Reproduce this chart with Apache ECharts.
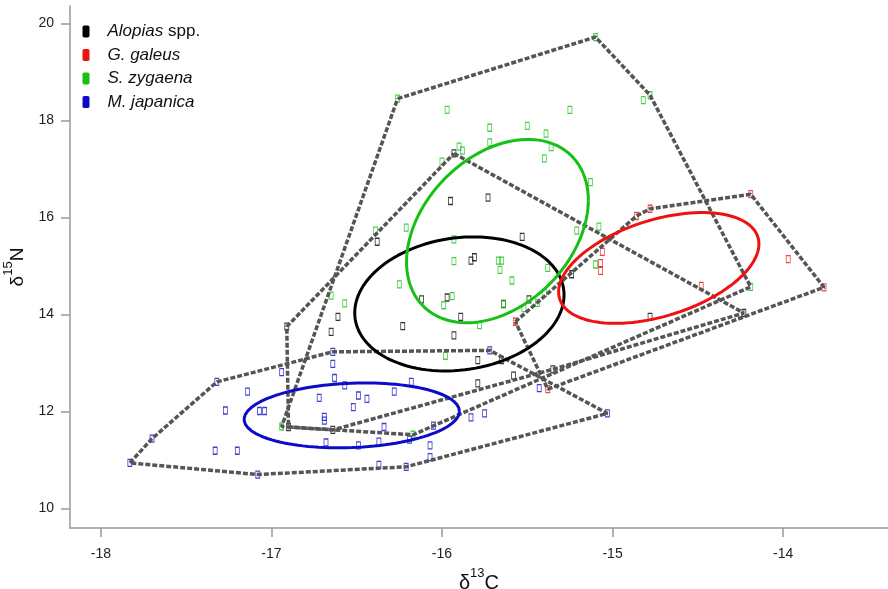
<!DOCTYPE html>
<html><head><meta charset="utf-8">
<script src="https://cdn.jsdelivr.net/npm/echarts@6/dist/echarts.min.js"></script>
<style>html,body{margin:0;padding:0;background:#fff}#c{width:888px;height:589px}</style>
</head><body><div id="c"></div>
<script>
// ---- data ----
const species = ['Alopias spp.', 'G. galeus', 'S. zygaena', 'M. japanica'];
const xTicks = [-18, -17, -16, -15, -14];
const yTicks = [10, 12, 14, 16, 18, 20];

const alopias = [[-15.93,17.32],[-15.95,16.34],[-15.73,16.41],[-15.53,15.60],[-16.38,15.50],[-15.83,15.11],[-15.81,15.18],[-16.12,14.31],[-15.97,14.35],[-15.64,14.22],[-15.49,14.31],[-15.89,13.95],[-16.61,13.95],[-16.65,13.64],[-16.91,13.75],[-16.23,13.76],[-15.93,13.57],[-15.24,14.83],[-14.78,13.95],[-14.23,14.03],[-15.79,13.06],[-15.79,12.58],[-15.58,12.74],[-15.35,12.87],[-16.90,11.68],[-16.64,11.62],[-15.65,13.06]];
const galeus = [[-15.57,13.85],[-14.86,16.03],[-14.78,16.18],[-14.19,16.48],[-15.06,15.29],[-15.07,15.06],[-15.07,14.90],[-13.97,15.14],[-14.48,14.59],[-13.76,14.56],[-15.38,12.46]];
const zygaena = [[-15.10,19.72],[-14.78,18.52],[-14.82,18.42],[-16.26,18.45],[-15.97,18.22],[-15.25,18.22],[-15.72,17.85],[-15.50,17.89],[-15.39,17.73],[-15.72,17.55],[-15.36,17.45],[-15.90,17.46],[-15.88,17.38],[-15.40,17.22],[-16.00,17.15],[-15.13,16.73],[-16.39,15.73],[-16.21,15.79],[-15.93,15.55],[-15.93,15.10],[-15.67,15.11],[-15.65,15.11],[-15.66,14.92],[-16.25,14.62],[-16.65,14.39],[-16.57,14.23],[-15.94,14.38],[-15.99,14.19],[-15.78,13.78],[-15.59,14.70],[-15.38,14.96],[-15.21,15.73],[-15.08,15.81],[-15.10,15.03],[-15.52,14.13],[-15.44,14.24],[-15.40,14.44],[-15.64,14.21],[-15.98,13.15],[-14.19,14.57],[-16.94,11.69],[-16.17,11.52]];
const japanica = [[-17.83,10.94],[-17.70,11.44],[-17.32,12.61],[-17.33,11.19],[-17.20,11.19],[-17.27,12.02],[-17.14,12.41],[-17.08,10.70],[-17.07,12.01],[-17.04,12.01],[-16.94,12.81],[-16.64,13.23],[-16.64,12.98],[-16.63,12.69],[-16.57,12.54],[-16.72,12.28],[-16.49,12.33],[-16.44,12.26],[-16.52,12.09],[-16.69,11.89],[-16.69,11.81],[-16.28,12.41],[-16.18,12.61],[-16.34,11.68],[-16.68,11.36],[-16.49,11.30],[-16.37,11.38],[-16.19,11.42],[-16.05,11.71],[-16.07,11.30],[-16.07,11.06],[-16.37,10.90],[-16.21,10.86],[-15.83,11.88],[-15.75,11.96],[-15.72,13.26],[-15.43,12.48],[-15.03,11.96]];

// convex hull vertex order (indices into each species' points)
const alopiasHull = [0,19,23,25,24,14];
const galeusHull = [0,1,2,3,9,10];
const zygaenaHull = [3,0,1,39,41,40];
const japanicaHull = [0,1,2,11,35,37,32,7];

// standard ellipse parameters: centre x, centre y, var x, cov xy, var y
const alopiasEllipse = [-15.898, 14.218, 0.3765, 0.1135, 1.911];
const galeusEllipse = [-14.729, 14.959, 0.3448, 0.2900, 1.3039];
const zygaenaEllipse = [-15.675, 15.720, 0.2840, 0.3399, 3.572];
const japanicaEllipse = [-16.529, 11.920, 0.3984, 0.0520, 0.4472];

// ---- chart ----
const FONT = '"Liberation Sans", Arial, Helvetica, sans-serif';
const colors = ['#000000', '#ee1111', '#16c016', '#0c0cc8'];
const groups = [alopias, galeus, zygaena, japanica];
const hulls = [alopiasHull, galeusHull, zygaenaHull, japanicaHull];
const ellipses = [alopiasEllipse, galeusEllipse, zygaenaEllipse, japanicaEllipse];

function ellipseOutline(p) {
  const [cx, cy, sxx, sxy, syy] = p;
  const l11 = Math.sqrt(sxx), l21 = sxy / l11, l22 = Math.sqrt(syy - l21 * l21);
  const pts = [];
  for (let k = 0; k <= 120; k++) {
    const t = 2 * Math.PI * k / 120;
    pts.push([cx + l11 * Math.cos(t), cy + l21 * Math.cos(t) + l22 * Math.sin(t)]);
  }
  return pts;
}

const series = [];
groups.forEach((g, i) => series.push({
  type: 'scatter', name: species[i], data: g, symbol: 'rect', symbolSize: [4, 7],
  itemStyle: { color: 'rgba(0,0,0,0)', borderColor: colors[i], borderWidth: 1, opacity: 0.8 },
  z: 2, silent: true
}));
hulls.forEach((h, i) => series.push({
  type: 'line', name: 'hull' + i, data: h.concat([h[0]]).map(k => groups[i][k]),
  symbol: 'none', lineStyle: { color: '#555555', width: 3.5, type: [5, 2], cap: 'butt' },
  z: 3, silent: true
}));
ellipses.forEach((e, i) => series.push({
  type: 'line', name: 'ellipse' + i, data: ellipseOutline(e), symbol: 'none', smooth: false,
  lineStyle: { color: colors[i], width: 3 }, z: 4, silent: true
}));

const labelRich = (sz) => ({
  d: { fontSize: sz, fontFamily: FONT, color: '#111', lineHeight: 26, verticalAlign: 'bottom' },
  s: { fontSize: 13, fontFamily: FONT, color: '#111', lineHeight: 13, verticalAlign: 'top' },
  c: { fontSize: sz, fontFamily: FONT, color: '#111', lineHeight: 26, verticalAlign: 'bottom' }
});

const option = {
  animation: false,
  backgroundColor: '#ffffff',
  grid: { left: 70, right: 0, top: 6, bottom: 61, containLabel: false, outerBoundsMode: 'none' },
  legend: {
    orient: 'vertical', left: 82.5, top: 21.5, padding: 0, itemGap: 3.5,
    itemWidth: 7, itemHeight: 12, icon: 'roundRect', selectedMode: false,
    data: species.map((s, i) => ({ name: s, itemStyle: { color: colors[i], borderWidth: 0, opacity: 1 } })),
    formatter: name => name === 'Alopias spp.' ? '{i|Alopias} {n|spp.}' : '{i|' + name + '}',
    textStyle: {
      fontFamily: FONT, fontSize: 17, color: '#111', lineHeight: 20, padding: [0, 0, 0, 13],
      rich: {
        i: { fontStyle: 'italic', fontSize: 17, fontFamily: FONT, lineHeight: 20, color: '#111' },
        n: { fontSize: 17, fontFamily: FONT, lineHeight: 20, color: '#111' }
      }
    }
  },
  xAxis: {
    type: 'value', min: -18.181, max: -13.385,
    axisLine: { show: true, onZero: false, lineStyle: { color: '#999', width: 1.5 } },
    axisTick: { show: true, length: 9, customValues: xTicks, lineStyle: { color: '#999', width: 1.5 } },
    axisLabel: { customValues: xTicks, formatter: v => String(v), fontSize: 14, color: '#222', margin: 19, fontFamily: FONT },
    splitLine: { show: false },
    name: '{d|δ}{s|13}{c|C}', nameLocation: 'middle', nameGap: 39,
    nameTextStyle: { rich: labelRich(20) }
  },
  yAxis: {
    type: 'value', min: 9.598, max: 20.36,
    axisLine: { show: true, onZero: false, lineStyle: { color: '#999', width: 1.5 } },
    axisTick: { show: true, length: 9, customValues: yTicks, lineStyle: { color: '#999', width: 1.5 } },
    axisLabel: { customValues: yTicks, formatter: v => String(v), fontSize: 14, color: '#222', margin: 16, fontFamily: FONT },
    splitLine: { show: false },
    name: '{d|δ}{s|15}{c|N}', nameLocation: 'middle', nameGap: 36,
    nameTextStyle: { rich: labelRich(19) }
  },
  series: series
};

const chart = echarts.init(document.getElementById('c'), null, { renderer: 'canvas' });
chart.setOption(option);
</script>
</body></html>
